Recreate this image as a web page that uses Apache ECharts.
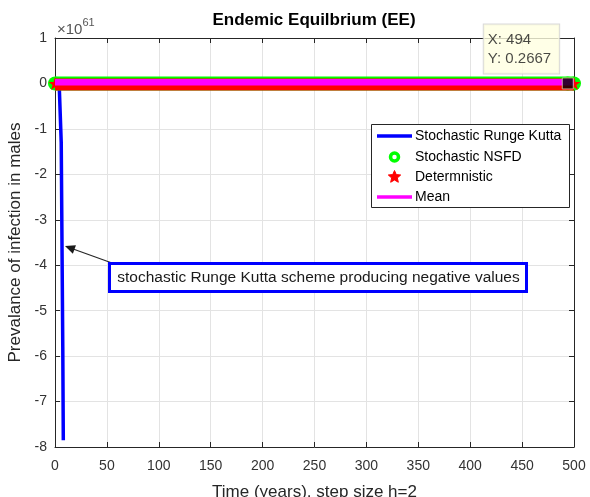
<!DOCTYPE html>
<html>
<head>
<meta charset="utf-8">
<title>Endemic Equilbrium (EE)</title>
<script src="https://cdn.jsdelivr.net/npm/echarts@6/dist/echarts.min.js"></script>
<style>
  html, body { margin: 0; padding: 0; background: #ffffff; }
  #chart { width: 590px; height: 497px; }
</style>
</head>
<body>
<div id="chart"></div>
<script>
// Prevalence values are kept in natural units; the y axis is shown in units of 1e61.
const SCALE = 1e61;

// Tick labels
const xTicks = [0, 50, 100, 150, 200, 250, 300, 350, 400, 450, 500];
const yTicks = [-8, -7, -6, -5, -4, -3, -2, -1, 0, 1];

// Stochastic Runge Kutta: diverges to huge negative values after a few steps
const rkTime  = [0, 2, 4, 6, 7.5, 8];
const rkValue = [0.2667, 0.2667, 0.2667, -1.30e61, -5.80e61, -7.85e61];

// Stochastic NSFD, deterministic and mean solutions stay at the endemic equilibrium
const eqTime    = [0, 494, 500];
const nsfdValue = [0.2667, 0.2667, 0.2667];
const detValue  = [0.2667, 0.2667, 0.2667];
const meanValue = [0.2667, 0.2667, 0.2667];

// Data tip
const tipTime  = 494;
const tipValue = 0.2667;

const FONT = '"Liberation Sans", Arial, Helvetica, sans-serif';
const AXIS_COLOR = '#262626';
const STAR = 'path://M50,0 L61,35 L98,35 L68,57 L79,91 L50,70 L21,91 L32,57 L2,35 L39,35 Z';
const OVERLAY_Z = 100;

const toPoints = (ts, vs) => ts.map((t, i) => [t, vs[i] / SCALE]);

function starPoints(cx, cy, R, r) {
  const pts = [];
  for (let k = 0; k < 10; k++) {
    const a = -Math.PI / 2 + k * Math.PI / 5;
    const rad = k % 2 === 0 ? R : r;
    pts.push([cx + rad * Math.cos(a), cy + rad * Math.sin(a)]);
  }
  return pts;
}

function arrowHead(from, to, len, half) {
  const dx = to[0] - from[0], dy = to[1] - from[1];
  const d = Math.hypot(dx, dy);
  const ux = dx / d, uy = dy / d;
  const bx = to[0] - ux * len, by = to[1] - uy * len;
  return [to, [bx - uy * half, by + ux * half], [bx + uy * half, by - ux * half]];
}

// keeps overlay elements above the grid lines
function overlay(el) {
  el.z = OVERLAY_Z;
  el.silent = true;
  return el;
}

const chart = echarts.init(document.getElementById('chart'), null, { renderer: 'canvas' });

const xCommon = {
  type: 'value',
  min: xTicks[0],
  max: xTicks[xTicks.length - 1],
  interval: xTicks[1] - xTicks[0],
  axisLine: { show: true, onZero: false, lineStyle: { color: AXIS_COLOR, width: 1 } },
  axisTick: { show: true, inside: true, length: 5, lineStyle: { color: AXIS_COLOR } }
};
const yCommon = {
  type: 'value',
  min: yTicks[0],
  max: yTicks[yTicks.length - 1],
  interval: yTicks[1] - yTicks[0],
  axisLine: { show: true, onZero: false, lineStyle: { color: AXIS_COLOR, width: 1 } },
  axisTick: { show: true, inside: true, length: 5, lineStyle: { color: AXIS_COLOR } }
};

const arrowFrom = [112, 263], arrowTo = [65, 246];
const legendText = (y, text) => overlay({
  type: 'text', x: 415, y: y,
  style: { text: text, fontSize: 14, fill: '#000000', fontFamily: FONT, verticalAlign: 'middle' }
});

const option = {
  animation: false,
  backgroundColor: '#ffffff',
  textStyle: { fontFamily: FONT },
  title: {
    text: 'Endemic Equilbrium (EE)',
    left: 314,
    top: 12,
    textAlign: 'center',
    padding: 0,
    textStyle: { fontSize: 17, fontWeight: 'bold', color: '#000000', fontFamily: FONT }
  },
  grid: { left: 55, right: 16, top: 38, bottom: 50, containLabel: false, outerBoundsMode: 'none' },
  xAxis: [
    Object.assign({}, xCommon, {
      position: 'bottom',
      name: 'Time (years), step size h=2',
      nameLocation: 'middle',
      nameGap: 37,
      nameTextStyle: { fontSize: 17, color: AXIS_COLOR, fontFamily: FONT },
      axisLabel: { show: true, fontSize: 14, color: '#333333', margin: 12, fontFamily: FONT },
      splitLine: { show: true, lineStyle: { color: '#e3e3e3', width: 1 } }
    }),
    Object.assign({}, xCommon, {
      position: 'top',
      axisLabel: { show: false },
      splitLine: { show: false }
    })
  ],
  yAxis: [
    Object.assign({}, yCommon, {
      position: 'left',
      name: 'Prevalance of infection in males',
      nameLocation: 'middle',
      nameGap: 24,
      nameTextStyle: { fontSize: 17, color: AXIS_COLOR, fontFamily: FONT },
      axisLabel: { show: true, fontSize: 14, color: '#333333', margin: 8, fontFamily: FONT },
      splitLine: { show: true, lineStyle: { color: '#e3e3e3', width: 1 } }
    }),
    Object.assign({}, yCommon, {
      position: 'right',
      axisLabel: { show: false },
      splitLine: { show: false }
    })
  ],
  series: [
    {
      name: 'Stochastic Runge Kutta',
      type: 'line',
      data: toPoints(rkTime, rkValue),
      symbol: 'none',
      showSymbol: false,
      clip: false,
      z: 2,
      lineStyle: { color: '#0000ff', width: 3.5 }
    },
    {
      name: 'Stochastic NSFD',
      type: 'line',
      data: toPoints(eqTime, nsfdValue),
      symbol: 'circle',
      symbolSize: 14,
      showSymbol: true,
      clip: false,
      z: 3,
      itemStyle: { color: '#00ff00' },
      lineStyle: { color: '#00ff00', width: 14 }
    },
    {
      name: 'Determnistic',
      type: 'line',
      data: toPoints(eqTime, detValue),
      symbol: STAR,
      symbolSize: 13,
      showSymbol: true,
      clip: false,
      z: 4,
      itemStyle: { color: '#ff0000' },
      lineStyle: { color: '#ff0000', width: 10, shadowColor: '#ff0000', shadowBlur: 0, shadowOffsetY: 2 }
    },
    {
      name: 'Mean',
      type: 'line',
      data: toPoints(eqTime, meanValue),
      symbol: 'none',
      showSymbol: false,
      clip: false,
      z: 5,
      lineStyle: { color: '#ff00ff', width: 4, shadowColor: '#ff00ff', shadowBlur: 0, shadowOffsetY: -2.5 }
    },
    {
      name: 'Data tip',
      type: 'scatter',
      data: [[tipTime, tipValue / SCALE]],
      symbol: 'rect',
      symbolSize: 11,
      clip: false,
      z: 10,
      itemStyle: { color: '#000000', borderColor: '#d6cfae', borderWidth: 1 },
      label: {
        show: true,
        position: [-78, -4],
        align: 'left',
        verticalAlign: 'bottom',
        formatter: 'X: ' + tipTime + '\nY: ' + tipValue,
        fontSize: 15,
        lineHeight: 19,
        color: '#1a1a1a',
        fontFamily: FONT,
        backgroundColor: '#ffffe1',
        borderColor: '#cfcfcf',
        borderWidth: 1,
        padding: [6, 8, 5, 4]
      },
      emphasis: { disabled: true }
    }
  ],
  graphic: [
    // axis exponent
    overlay({
      type: 'text',
      x: 57,
      y: 37,
      style: {
        text: '{m|×10}{e|61}',
        verticalAlign: 'bottom',
        rich: {
          m: { fontSize: 15, fill: '#555555', fontFamily: FONT, verticalAlign: 'bottom', lineHeight: 20 },
          e: { fontSize: 11, fill: '#555555', fontFamily: FONT, verticalAlign: 'top', lineHeight: 20, padding: [0, 0, 5, 0] }
        }
      }
    }),
    // legend box
    overlay({ type: 'rect', shape: { x: 371.5, y: 124.5, width: 198, height: 83 }, style: { fill: '#ffffff', stroke: '#262626', lineWidth: 1 } }),
    overlay({ type: 'line', shape: { x1: 377, y1: 136, x2: 412, y2: 136 }, style: { stroke: '#0000ff', lineWidth: 3.5 } }),
    legendText(136, 'Stochastic Runge Kutta'),
    overlay({ type: 'circle', shape: { cx: 394.5, cy: 157, r: 4 }, style: { fill: '#ffffff', stroke: '#00ff00', lineWidth: 3.5 } }),
    legendText(157, 'Stochastic NSFD'),
    overlay({ type: 'polygon', shape: { points: starPoints(394.5, 177, 6.5, 3) }, style: { fill: '#ff0000', stroke: '#ff0000', lineWidth: 1 } }),
    legendText(177, 'Determnistic'),
    overlay({ type: 'line', shape: { x1: 377, y1: 197, x2: 412, y2: 197 }, style: { stroke: '#ff00ff', lineWidth: 3.5 } }),
    legendText(197, 'Mean'),
    // annotation arrow
    overlay({
      type: 'line',
      shape: { x1: arrowFrom[0], y1: arrowFrom[1], x2: arrowTo[0] + 4, y2: arrowTo[1] + 1.5 },
      style: { stroke: '#262626', lineWidth: 1.2 }
    }),
    overlay({
      type: 'polygon',
      shape: { points: arrowHead(arrowFrom, arrowTo, 10, 4.5) },
      style: { fill: '#1a1a1a' }
    }),
    // annotation text box
    overlay({ type: 'rect', shape: { x: 109.5, y: 263.5, width: 417, height: 28 }, style: { fill: '#ffffff', stroke: '#0000ff', lineWidth: 3 } }),
    overlay({
      type: 'text', x: 318.5, y: 278,
      style: { text: 'stochastic Runge Kutta scheme producing negative values', fontSize: 15.5, fill: '#1a1a1a', fontFamily: FONT, align: 'center', verticalAlign: 'middle' }
    })
  ]
};

chart.setOption(option);
</script>
</body>
</html>
